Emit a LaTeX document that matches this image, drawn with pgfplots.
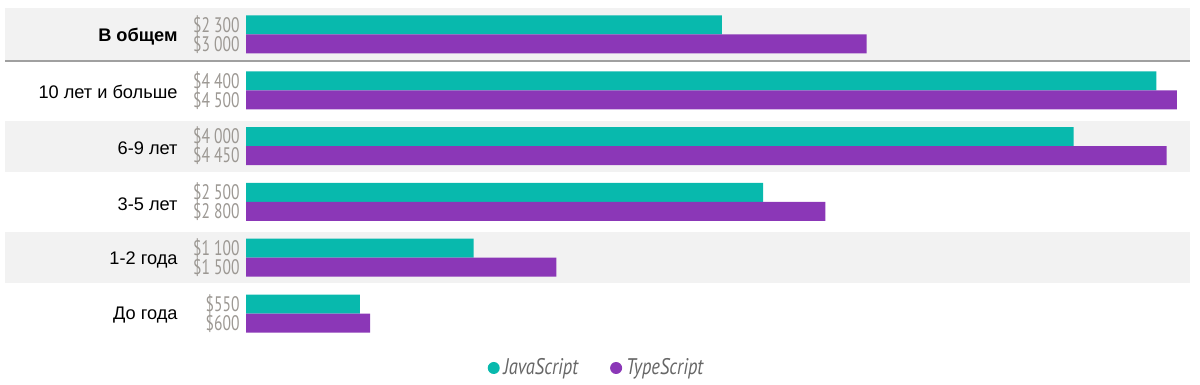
\documentclass[border=0pt]{standalone}
\usepackage{pgfplots}
\pgfplotsset{compat=1.18}
\usepackage{fontspec}
\setmainfont{Liberation Sans}
\newfontfamily\narrowfont{PT Sans}[FakeStretch=0.74]
\newfontfamily\legfont{PT Sans}[FakeStretch=0.82]
\definecolor{jsc}{HTML}{08B9AD}
\definecolor{tsc}{HTML}{8B37B7}
\definecolor{band}{HTML}{F2F2F2}
\definecolor{sepline}{HTML}{A0A0A0}
\definecolor{valgray}{HTML}{9C9893}
\definecolor{legtext}{HTML}{666666}
\begin{document}
\begin{tikzpicture}
\path[use as bounding box] (-2.5pt,-12.25pt) rectangle (597.5pt,180.25pt);
\begin{axis}[
  at={(0,0)}, anchor=south west,
  scale only axis, width=592.5pt, height=180.25pt,
  xmin=-1165, xmax=4563, ymin=-0.842, ymax=5.618,
  axis lines=none, clip=false,
  xtick=\empty, ytick=\empty,
  legend style={at={(0.5,-0.0208)}, anchor=center, draw=none, fill=none,
    legend columns=2, font=\legfont\itshape\fontsize{11.3}{11.3}\selectfont,
    text=legtext, legend cell align=left,
    /tikz/every even column/.append style={column sep=14pt}},
  /pgf/number format/.cd, fixed, precision=0, 1000 sep={\ }, assume math mode=true,
]
% background bands
\fill[band] (axis cs:-1165,4.525) rectangle (axis cs:4563,5.475);
\fill[band] (axis cs:-1165,2.543) rectangle (axis cs:4563,3.457);
\fill[band] (axis cs:-1165,0.543) rectangle (axis cs:4563,1.457);
\draw[sepline, line width=1pt] (axis cs:-1165,4.52) -- (axis cs:4563,4.52);

\addplot[xbar, bar width=9.5pt, bar shift=4.75pt, fill=jsc, draw=none,
  legend image code/.code={\fill[jsc] (3pt,0pt) circle (3pt);}]
  coordinates {(2300,5) (4400,4) (4000,3) (2500,2) (1100,1) (550,0)};
\addlegendentry{JavaScript}
\addplot[xbar, bar width=9.5pt, bar shift=-4.75pt, fill=tsc, draw=none,
  legend image code/.code={\fill[tsc] (3pt,0pt) circle (3pt);}]
  coordinates {(3000,5) (4500,4) (4450,3) (2800,2) (1500,1) (600,0)};
\addlegendentry{TypeScript}

% value labels
\addplot[only marks, mark=text, text mark={}, point meta=explicit,
  nodes near coords={\$\pgfmathprintnumber{\pgfplotspointmeta}},
  every node near coord/.append style={anchor=east, xshift=-3pt, yshift=4.75pt,
    font=\narrowfont\fontsize{10.5}{10.5}\selectfont, text=valgray, inner sep=0pt},
  forget plot]
  coordinates {(0,5)[2300] (0,4)[4400] (0,3)[4000] (0,2)[2500] (0,1)[1100] (0,0)[550]};
\addplot[only marks, mark=text, text mark={}, point meta=explicit,
  nodes near coords={\$\pgfmathprintnumber{\pgfplotspointmeta}},
  every node near coord/.append style={anchor=east, xshift=-3pt, yshift=-4.75pt,
    font=\narrowfont\fontsize{10.5}{10.5}\selectfont, text=valgray, inner sep=0pt},
  forget plot]
  coordinates {(0,5)[3000] (0,4)[4500] (0,3)[4450] (0,2)[2800] (0,1)[1500] (0,0)[600]};

% category labels
\begin{scope}[every node/.style={anchor=east, inner sep=0pt, yshift=-1pt, font=\fontsize{9.1}{9.1}\selectfont}]
\node at (axis cs:-329,5) {\textbf{В общем}};
\node at (axis cs:-329,4) {10 лет и больше};
\node at (axis cs:-329,3) {6-9 лет};
\node at (axis cs:-329,2) {3-5 лет};
\node at (axis cs:-329,1) {1-2 года};
\node at (axis cs:-329,0) {До года};
\end{scope}
\end{axis}
\end{tikzpicture}
\end{document}
